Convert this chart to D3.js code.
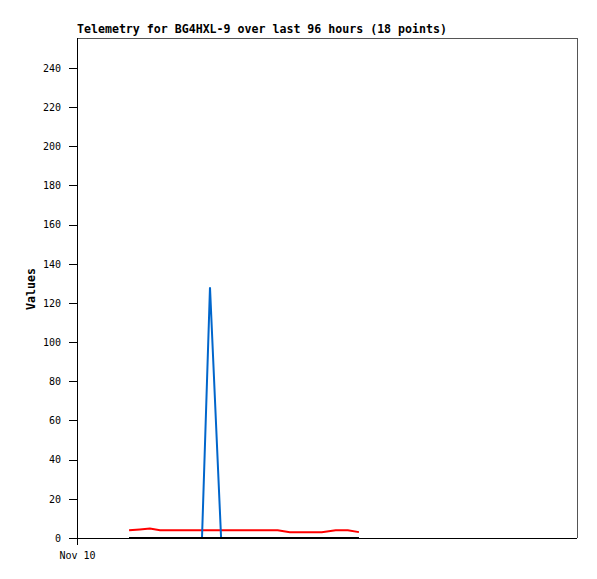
<!DOCTYPE html>
<html>
<head>
<meta charset="utf-8">
<script src="https://cdn.jsdelivr.net/npm/d3@7/dist/d3.min.js"></script>
<style>
  body { margin: 0; background: #fff; }
  svg { display: block; }
  text { font-family: "DejaVu Sans Mono", monospace; fill: #000; }
</style>
</head>
<body>
<script>
'use strict';

// 18 telemetry points, Nov 10
var times = [
  '2023-11-10T02:30', '2023-11-10T03:01', '2023-11-10T03:30', '2023-11-10T03:59',
  '2023-11-10T04:34', '2023-11-10T05:11', '2023-11-10T06:00', '2023-11-10T06:23',
  '2023-11-10T06:55', '2023-11-10T07:49', '2023-11-10T08:41', '2023-11-10T09:38',
  '2023-11-10T10:13', '2023-11-10T10:56', '2023-11-10T11:45', '2023-11-10T12:25',
  '2023-11-10T13:00', '2023-11-10T13:32'
];
var redValues = [4, 4.4, 4.8, 4, 4, 4, 4, 4, 4, 4, 4, 4, 3, 3, 3, 4, 4, 3];
var blueValues = [0, 0, 0, 0, 0, 0, 0, 128, 0, 0, 0, 0, 0, 0, 0, 0, 0, 0];
var blackValues = [0, 0, 0, 0, 0, 0, 0, 0, 0, 0, 0, 0, 0, 0, 0, 0, 0, 0];
var yTicks = [0, 20, 40, 60, 80, 100, 120, 140, 160, 180, 200, 220, 240];
var xTickLabels = ['Nov 10'];

var width = 597;
var height = 579;
var margin = { top: 38, right: 20, bottom: 41, left: 77 };
var plotW = width - margin.left - margin.right;
var plotH = height - margin.top - margin.bottom;

var parse = d3.timeParse('%Y-%m-%dT%H:%M');
var dates = times.map(parse);
var dayStart = d3.timeDay.floor(dates[0]);

var x = d3.scaleTime()
  .domain([dayStart, d3.timeDay.offset(dayStart, 1)])
  .range([0, plotW]);

var y = d3.scaleLinear().domain([0, 255.3]).range([plotH, 0]);

var svg = d3.select('body').append('svg')
  .attr('width', width)
  .attr('height', height);

svg.append('text')
  .attr('x', margin.left)
  .attr('y', 33)
  .style('font-size', '11.6px')
  .style('font-weight', 'bold')
  .text('Telemetry for BG4HXL-9 over last 96 hours (18 points)');

svg.append('text')
  .attr('transform', 'translate(35,289) rotate(-90)')
  .attr('text-anchor', 'middle')
  .style('font-size', '11.6px')
  .style('font-weight', 'bold')
  .text('Values');

var g = svg.append('g')
  .attr('transform', 'translate(' + margin.left + ',' + margin.top + ')');

// frame (top and right)
g.append('path')
  .attr('d', 'M0,0.5H' + (plotW + 0.5) + 'V' + plotH)
  .attr('fill', 'none')
  .attr('stroke', '#555')
  .attr('shape-rendering', 'crispEdges');

function series(values, color, w) {
  var line = d3.line()
    .x(function(d, i) { return x(dates[i]); })
    .y(function(d) { return y(d); });
  g.append('path')
    .datum(values)
    .attr('d', line)
    .attr('fill', 'none')
    .attr('stroke', color)
    .attr('stroke-width', w);
}

series(redValues, '#ff0000', 2);
series(blueValues, '#0066cc', 2);
series(blackValues, '#000000', 2);

var yAxis = d3.axisLeft(y)
  .tickValues(yTicks)
  .tickSize(8)
  .tickPadding(8);

var yG = g.append('g').call(yAxis);
yG.select('.domain').attr('stroke', '#000').attr('d', 'M0.5,0V' + plotH);
yG.selectAll('text').style('font-size', '10px').style('font-family', '"DejaVu Sans Mono", monospace');
yG.selectAll('line').attr('shape-rendering', 'crispEdges');

var xAxis = d3.axisBottom(x)
  .tickValues([dayStart])
  .tickFormat(function(d, i) { return xTickLabels[i]; })
  .tickSize(7)
  .tickPadding(7);

var xG = g.append('g')
  .attr('transform', 'translate(0,' + plotH + ')')
  .call(xAxis);
xG.select('.domain').attr('stroke', '#000').attr('d', 'M0,0.5H' + plotW);
xG.selectAll('text').style('font-size', '10px').style('font-family', '"DejaVu Sans Mono", monospace');
xG.selectAll('line').attr('shape-rendering', 'crispEdges');
</script>
</body>
</html>
